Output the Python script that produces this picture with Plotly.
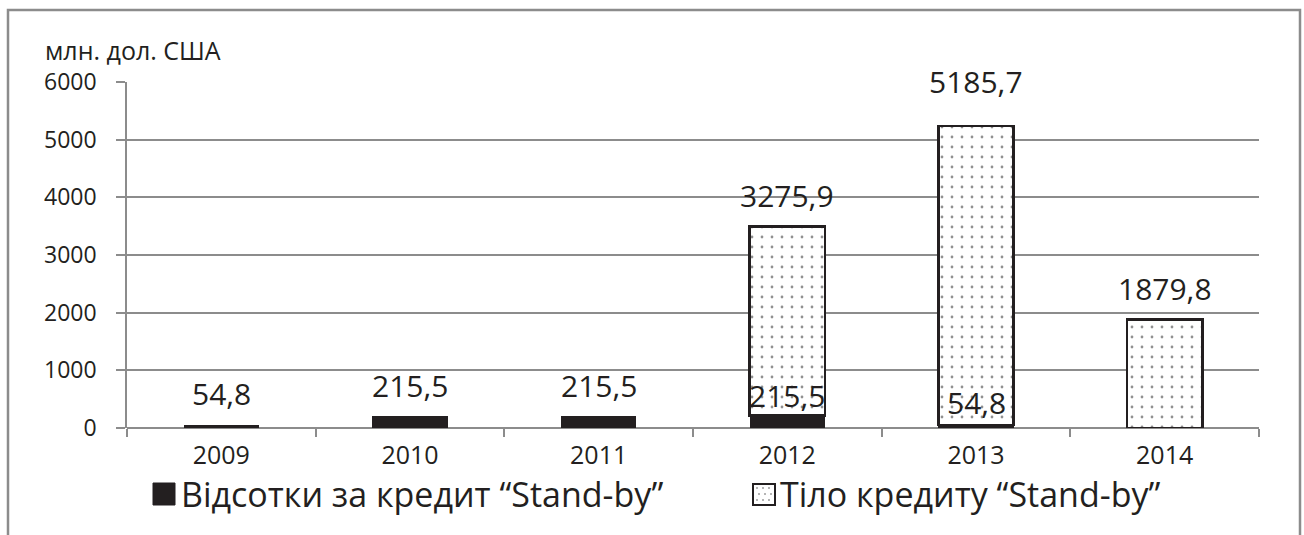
import plotly.graph_objects as go

# Categories and series values (million USD)
years = ["2009", "2010", "2011", "2012", "2013", "2014"]
interest = [54.8, 215.5, 215.5, 215.5, 54.8, None]        # Відсотки за кредит "Stand-by"
principal = [None, None, None, 3275.9, 5185.7, 1879.8]    # Тіло кредиту "Stand-by"

# y-axis ticks
y_ticks = [0, 1000, 2000, 3000, 4000, 5000, 6000]

# Vertical offsets (px) of the value labels above the stack tops
interest_label_shift = [31, 30, 30, 20, 22, 0]
principal_label_shift = [31, 31, 31, 31, 44, 31]

W, H = 1304, 535
L, R, T, B = 127, 45, 82, 107
PW, PH = W - L - R, H - T - B

FONT = "Open Sans"
INK = "#231f20"
GRID = "#8c8c8c"


def px(xp):
    return (xp - L) / PW


def py(yp):
    return (H - B - yp) / PH


def fmt(v):
    return f"{v:.1f}".replace(".", ",")


fig = go.Figure()

fig.add_trace(go.Bar(
    x=years, y=interest, name="Відсотки за кредит “Stand-by”",
    marker=dict(color=INK, line=dict(width=0)),
    width=0.4, showlegend=False,
))
fig.add_trace(go.Bar(
    x=years, y=principal, name="Тіло кредиту “Stand-by”",
    marker=dict(color="white", line=dict(color=INK, width=2.5),
                pattern=dict(shape=".", fgcolor="#222222", bgcolor="white",
                             size=10, solidity=0.06)),
    width=0.4, showlegend=False,
))

annotations = []
# value labels for the interest series (x given as category index)
for i, (v, s) in enumerate(zip(interest, interest_label_shift)):
    if v is None:
        continue
    annotations.append(dict(x=i, y=v, xref="x", yref="y", text=fmt(v),
                            showarrow=False, yanchor="middle", yshift=s,
                            font=dict(family=FONT, size=30, color=INK)))
# value labels for the principal series (placed above the stacked total)
for i, (vi, vp, s) in enumerate(zip(interest, principal, principal_label_shift)):
    if vp is None:
        continue
    top = vp + (vi or 0)
    annotations.append(dict(x=i, y=top, xref="x", yref="y", text=fmt(vp),
                            showarrow=False, yanchor="middle", yshift=s,
                            font=dict(family=FONT, size=30, color=INK)))

# unit caption
annotations.append(dict(x=px(43), y=py(50), xref="paper", yref="paper",
                        text="млн. дол. США", showarrow=False,
                        xanchor="left", yanchor="middle",
                        font=dict(family=FONT, size=25, color=INK)))

# legend texts
annotations.append(dict(x=px(179), y=py(494), xref="paper", yref="paper",
                        text="Відсотки за кредит “Stand-by”", showarrow=False,
                        xanchor="left", yanchor="middle",
                        font=dict(family=FONT, size=34, color=INK)))
annotations.append(dict(x=px(778), y=py(494), xref="paper", yref="paper",
                        text="Тіло кредиту “Stand-by”", showarrow=False,
                        xanchor="left", yanchor="middle",
                        font=dict(family=FONT, size=34, color=INK)))

shapes = []
# outer frame
shapes.append(dict(type="rect", xref="paper", yref="paper",
                   x0=px(8), x1=px(1300), y0=py(560), y1=py(10),
                   line=dict(color=GRID, width=2.5), fillcolor="rgba(0,0,0,0)",
                   layer="below"))
# legend swatches
shapes.append(dict(type="rect", xref="paper", yref="paper",
                   x0=px(153), x1=px(175), y0=py(505), y1=py(483),
                   line=dict(color=INK, width=1), fillcolor=INK))
shapes.append(dict(type="rect", xref="paper", yref="paper",
                   x0=px(753), x1=px(775), y0=py(505), y1=py(484),
                   line=dict(color=INK, width=2), fillcolor="white"))
for dx in [757, 763, 769]:
    for j, dy in enumerate([488, 494, 500]):
        shapes.append(dict(type="circle", xref="paper", yref="paper",
                           x0=px(dx + (j % 2) * 2 - 0.7), x1=px(dx + (j % 2) * 2 + 0.7),
                           y0=py(dy + 0.7), y1=py(dy - 0.7),
                           line=dict(width=0), fillcolor="#333333"))

fig.update_layout(
    width=W, height=H,
    margin=dict(l=L, r=R, t=T, b=B),
    barmode="stack",
    paper_bgcolor="white", plot_bgcolor="white",
    font=dict(family=FONT, color=INK),
    annotations=annotations,
    shapes=shapes,
    showlegend=False,
    xaxis=dict(
        type="category", categoryorder="array", categoryarray=years,
        range=[-0.5, len(years) - 0.5],
        tickson="boundaries", ticks="outside", ticklen=8, tickwidth=1.5,
        tickcolor=GRID, showgrid=False, showline=False, zeroline=False,
        tickfont=dict(family=FONT, size=25, color=INK),
        ticklabelstandoff=10,
    ),
    yaxis=dict(
        range=[0, 6000], tickvals=y_ticks, ticktext=[str(v) for v in y_ticks],
        showgrid=True, gridcolor=GRID, gridwidth=1.5,
        zeroline=True, zerolinecolor=GRID, zerolinewidth=1.5,
        showline=True, linecolor=GRID, linewidth=1.5,
        ticks="outside", ticklen=9, tickwidth=1.5, tickcolor=GRID,
        tickfont=dict(family=FONT, size=23, color=INK),
        ticklabelstandoff=15,
    ),
)

fig.write_html("out.html")
